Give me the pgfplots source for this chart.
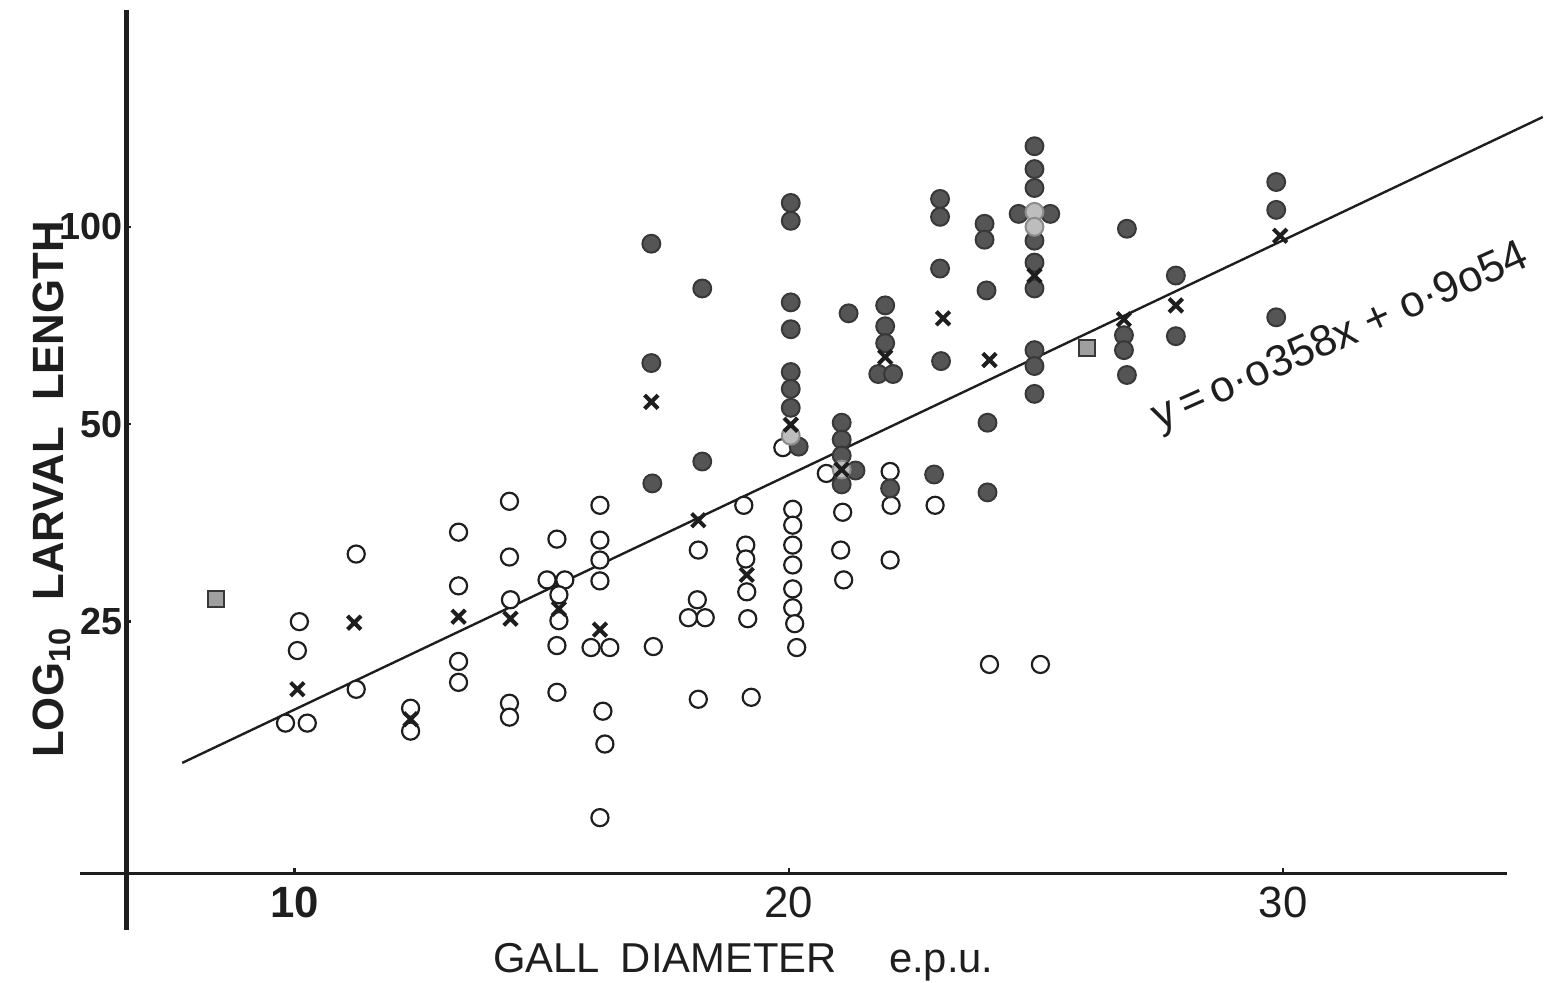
\documentclass[border=0pt]{standalone}
\usepackage{fontspec}
\setmainfont{Liberation Sans}
\usepackage{pgfplots}
\usepackage{pgfplotstable}
\pgfplotsset{compat=1.18}

\definecolor{ink}{HTML}{1E1E1E}
\definecolor{dotfill}{HTML}{555555}
\definecolor{dotedge}{HTML}{383838}
\definecolor{palefill}{HTML}{BDBDBD}
\definecolor{paleedge}{HTML}{8C8C8C}

% y values are log10 of larval length; x is gall diameter (e.p.u.)
\pgfplotstableread{
x y
10.10 1.3976
10.06 1.3535
9.82 1.2428
10.26 1.2428
11.25 1.5007
11.25 1.2944
12.35 1.2655
12.35 1.2306
13.32 1.5341
13.32 1.4522
13.32 1.3369
13.32 1.3050
14.35 1.5812
14.35 1.4962
14.37 1.4310
14.35 1.2731
14.35 1.2519
15.31 1.5235
15.11 1.4613
15.47 1.4613
15.35 1.4385
15.35 1.3991
15.31 1.3611
15.31 1.2898
16.18 1.5751
16.18 1.5220
16.18 1.4916
16.18 1.4598
16.00 1.3581
16.38 1.3581
16.24 1.2610
16.28 1.2109
16.18 1.0986
17.26 1.3596
18.17 1.5068
18.15 1.4310
17.97 1.4036
18.31 1.4036
18.17 1.2792
19.09 1.5751
19.13 1.5144
19.13 1.4932
19.15 1.4431
19.17 1.4021
19.24 1.2822
19.88 1.6631
20.08 1.5690
20.08 1.5448
20.08 1.5144
20.08 1.4841
20.08 1.4476
20.08 1.4188
20.12 1.3945
20.16 1.3581
20.76 1.6237
21.09 1.5645
21.05 1.5068
21.11 1.4613
22.05 1.6267
22.07 1.5751
22.05 1.4916
22.96 1.5751
24.06 1.3323
25.09 1.3323
}\opencircles

\pgfplotstableread{
x y
17.22 1.9742
17.22 1.7921
17.24 1.6085
18.25 1.9059
18.25 1.6419
20.04 2.0364
20.04 2.0091
20.04 1.8847
20.04 1.8437
20.04 1.7784
20.04 1.7527
20.04 1.7238
20.20 1.6646
21.21 1.8680
21.07 1.7011
21.07 1.6753
21.07 1.6510
21.35 1.6282
21.07 1.6070
21.95 1.8801
21.95 1.8483
21.95 1.8225
21.81 1.7754
22.11 1.7754
22.05 1.6009
23.06 2.0425
23.06 2.0152
23.06 1.9363
23.08 1.7951
22.94 1.6221
23.96 2.0046
23.96 1.9803
24.00 1.9029
24.02 1.7011
24.02 1.5948
24.97 2.1229
24.97 2.0880
24.97 2.0592
24.65 2.0197
25.29 2.0197
24.97 1.9788
24.97 1.9454
24.97 1.9059
24.97 1.8118
24.97 1.7876
24.97 1.7451
26.84 1.9970
26.78 1.8346
26.78 1.8118
26.84 1.7739
27.83 1.9256
27.83 1.8331
29.86 2.0683
29.86 2.0258
29.86 1.8619
}\filledcircles

\pgfplotstableread{
x y
20.04 1.6813
21.07 1.6297
24.97 2.0228
24.97 2.0000
}\palecircles

\pgfplotstableread{
x y
8.41 1.4325
26.04 1.8149
}\squares

% column means
\pgfplotstableread{
x y
10.06 1.2944
11.21 1.3960
12.35 1.2488
13.32 1.4051
14.37 1.4021
15.35 1.4173
16.18 1.3854
17.22 1.7329
18.17 1.5523
19.15 1.4689
20.04 1.6980
21.07 1.6297
21.95 1.8012
23.12 1.8604
24.06 1.7967
24.97 1.9256
26.78 1.8589
27.83 1.8801
29.94 1.9863
}\means

\begin{document}
\begin{tikzpicture}
\begin{axis}[
  scale only axis,
  width=356.25pt, height=219.5pt,
  xmin=6.5996, xmax=35.2716,
  ymin=1.01362, ymax=2.34599,
  axis x line*=bottom, axis y line*=left,
  axis line style={draw=none},
  xtick={10,20,30},
  xticklabels={\bfseries 10, 20, 30},
  ytick={1.39794,1.69897,2},
  yticklabels={25,50,100},
  tick align=inside,
  major tick length=1.3pt,
  tick style={ink, line width=0.6pt},
  x tick label style={font=\fontsize{11}{12}\selectfont, text=ink},
  y tick label style={font=\fontsize{9.5}{10}\selectfont\bfseries, text=ink,
    xshift=2.6pt},
  clip=false,
]
% page extent
\path (axis cs:4.0443,0.8467) rectangle (axis cs:35.2716,2.34599);

% hand-ruled axes that run past each other
\draw[ink, line width=1.15pt] (axis cs:6.5996,2.33082) -- (axis cs:6.5996,0.92713);
\draw[ink, line width=0.8pt] (axis cs:5.6539,1.01362) -- (axis cs:34.5272,1.01362);

% regression line y = 0.0358x + 0.9054
\addplot[ink, line width=0.6pt] coordinates {(7.73,1.1821) (35.25,2.1674)};

\addplot[only marks, mark=*, mark size=2.15pt,
  mark options={fill=white, draw=ink, line width=0.55pt}] table {\opencircles};
\addplot[only marks, mark=*, mark size=2.25pt,
  mark options={fill=dotfill, draw=dotedge, line width=0.5pt}] table {\filledcircles};
\addplot[only marks, mark=*, mark size=2.25pt,
  mark options={fill=palefill, draw=paleedge, line width=0.5pt}] table {\palecircles};
\addplot[only marks, mark=square*, mark size=2pt,
  mark options={fill=gray!75, draw=dotedge, line width=0.5pt}] table {\squares};
\addplot[only marks, mark=x, mark size=2.4pt,
  mark options={draw=ink, line width=1pt}] table {\means};

\node[rotate=90, font=\fontsize{11}{12}\selectfont\bfseries, text=ink]
  at (axis cs:5.0905,1.5994) {LOG\textsubscript{10}\hspace{0.6em}LARVAL\hspace{0.6em}LENGTH};
\node[anchor=base west, inner sep=0pt, font=\fontsize{10.5}{12}\selectfont, text=ink]
  at (axis cs:14.004,0.8619) {GALL\hspace{0.5em}DIAMETER};
\node[anchor=base west, inner sep=0pt, font=\fontsize{10.5}{12}\selectfont, text=ink]
  at (axis cs:22.012,0.8619) {e.p.u.};
\node[rotate=24, font=\fontsize{11}{12}\selectfont, text=ink]
  at (axis cs:31.167,1.8300) {y\,=\,o·o358x + o·9o54};
\end{axis}
\end{tikzpicture}
\end{document}
